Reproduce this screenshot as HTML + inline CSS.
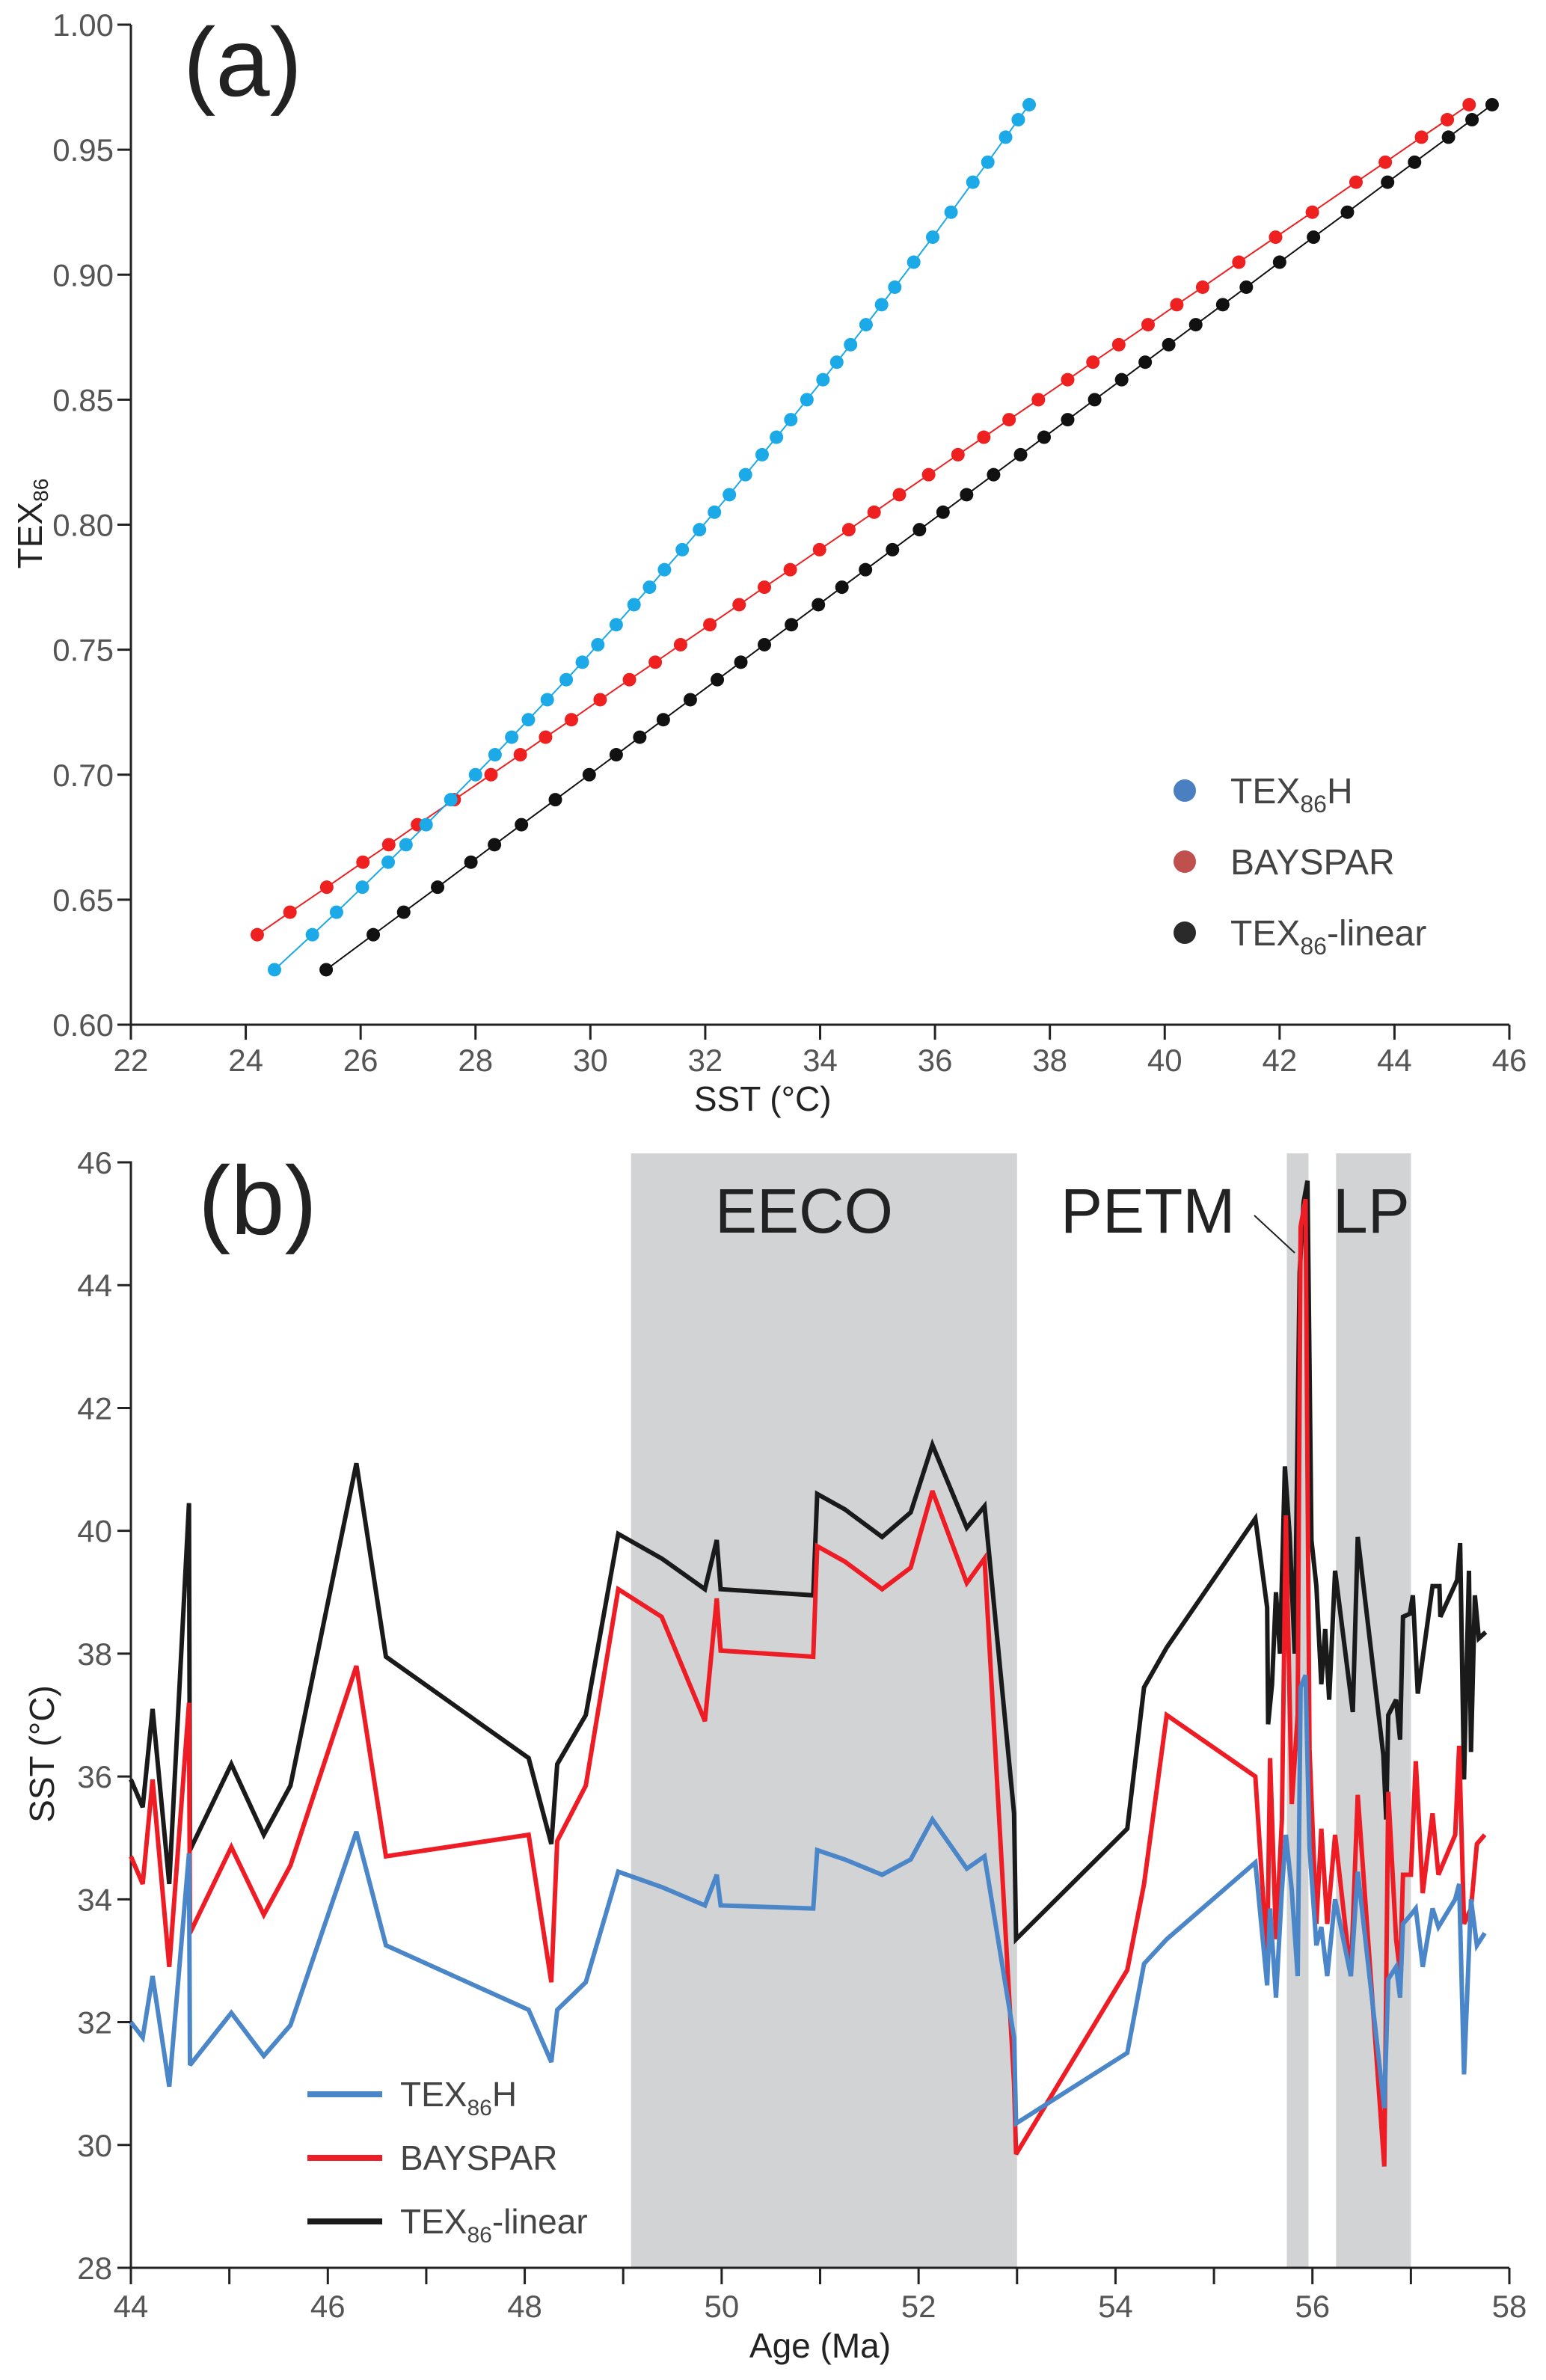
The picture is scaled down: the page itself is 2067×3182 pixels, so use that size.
<!DOCTYPE html>
<html><head><meta charset="utf-8"><style>
html,body{margin:0;padding:0;background:#fff}
svg{display:block;font-family:"Liberation Sans",sans-serif}
</style></head><body>
<svg id="fig" width="2067" height="3182" viewBox="0 0 2067 3182">
<g id="pa"></g>
<g id="pb"></g>
</svg>
<script>
// ---------- Panel (a) data ----------
const texValues=[0.622,0.636,0.645,0.655,0.665,0.672,0.680,0.690,0.700,0.708,0.715,0.722,0.730,0.738,0.745,0.752,0.760,0.768,0.775,0.782,0.790,0.798,0.805,0.812,0.820,0.828,0.835,0.842,0.850,0.858,0.865,0.872,0.880,0.888,0.895,0.905,0.915,0.925,0.937,0.945,0.955,0.962,0.968];
const sstTexH=[24.50,25.16,25.58,26.03,26.48,26.79,27.14,27.57,28.00,28.34,28.63,28.92,29.25,29.58,29.86,30.13,30.45,30.76,31.03,31.29,31.60,31.90,32.16,32.42,32.70,32.99,33.24,33.49,33.77,34.05,34.29,34.53,34.80,35.07,35.30,35.63,35.96,36.28,36.66,36.92,37.23,37.45,37.64];
const sstBayspar=[null,24.20,24.77,25.41,26.04,26.49,26.99,27.63,28.27,28.78,29.22,29.67,30.17,30.68,31.13,31.57,32.08,32.59,33.03,33.48,33.99,34.50,34.94,35.38,35.89,36.40,36.85,37.29,37.80,38.31,38.75,39.20,39.71,40.21,40.66,41.29,41.93,42.57,43.33,43.84,44.47,44.92,45.30];
const sstLinear=[25.40,26.22,26.75,27.34,27.92,28.33,28.80,29.39,29.98,30.45,30.86,31.27,31.74,32.21,32.62,33.03,33.50,33.97,34.38,34.79,35.26,35.73,36.14,36.55,37.02,37.49,37.90,38.31,38.78,39.25,39.66,40.07,40.54,41.01,41.42,42.00,42.59,43.18,43.88,44.35,44.94,45.35,45.70];
const aXTicks=[22,24,26,28,30,32,34,36,38,40,42,44,46];
const aYTicks=[0.60,0.65,0.70,0.75,0.80,0.85,0.90,0.95,1.00];

// ---------- Panel (b) data ----------
const ageBlack=[44.0,44.12,44.22,44.39,44.59,44.6,45.02,45.35,45.62,46.29,46.59,48.04,48.27,48.33,48.62,48.95,49.39,49.83,49.95,49.99,50.93,50.97,51.25,51.63,51.92,52.14,52.49,52.67,52.97,52.99,54.12,54.29,54.52,55.42,55.54,55.55,55.59,55.63,55.67,55.72,55.77,55.82,55.87,55.91,55.95,55.99,56.04,56.09,56.13,56.17,56.23,56.41,56.46,56.72,56.75,56.77,56.85,56.89,56.92,56.99,57.02,57.07,57.22,57.29,57.3,57.47,57.5,57.54,57.59,57.61,57.65,57.69,57.76];
const sstBlack=[35.95,35.5,37.1,34.25,40.45,34.8,36.2,35.05,35.85,41.1,37.95,36.3,34.9,36.2,37.0,39.95,39.55,39.05,39.85,39.05,38.95,40.6,40.35,39.9,40.3,41.4,40.05,40.4,35.4,33.35,35.15,37.45,38.1,40.2,38.75,36.85,37.5,39.0,38.0,41.05,39.9,38.0,44.2,45.35,45.7,39.85,39.1,37.5,38.4,37.25,39.35,37.05,39.9,36.35,35.3,37.0,37.25,36.6,38.6,38.65,38.95,37.35,39.1,39.1,38.6,39.2,39.8,35.95,39.35,36.4,38.95,38.25,38.35];
const ageColored=[44.0,44.12,44.22,44.39,44.59,44.6,45.02,45.35,45.62,46.29,46.59,48.04,48.27,48.33,48.62,48.95,49.39,49.83,49.95,49.99,50.93,50.97,51.25,51.63,51.92,52.14,52.49,52.67,52.97,52.99,54.12,54.29,54.52,55.42,55.54,55.57,55.63,55.69,55.73,55.79,55.85,55.88,55.93,55.97,56.04,56.09,56.15,56.23,56.39,56.46,56.73,56.77,56.85,56.89,56.92,57.0,57.05,57.12,57.22,57.28,57.45,57.49,57.54,57.61,57.67,57.75];
const sstRed=[34.7,34.25,35.95,32.9,37.2,33.45,34.85,33.75,34.55,37.8,34.7,35.05,32.65,34.95,35.85,39.05,38.6,36.9,38.9,38.05,37.95,39.75,39.5,39.05,39.4,40.65,39.15,39.55,31.0,29.85,32.85,34.25,37.0,36.0,33.0,36.3,33.35,35.3,40.25,35.55,37.0,44.95,45.4,36.45,33.6,35.15,33.6,35.05,32.75,35.7,29.65,35.75,33.35,32.8,34.4,34.4,36.25,34.1,35.4,34.4,35.05,36.5,33.6,33.85,34.9,35.05];
const sstBlue=[32.0,31.75,32.75,30.95,34.75,31.3,32.15,31.45,31.95,35.1,33.25,32.2,31.35,32.2,32.65,34.45,34.2,33.9,34.4,33.9,33.85,34.8,34.65,34.4,34.65,35.3,34.5,34.7,31.75,30.35,31.5,32.95,33.35,34.6,32.6,33.85,32.4,34.15,35.05,34.15,32.75,37.45,37.65,34.85,33.25,33.55,32.75,34.0,32.75,34.45,30.6,32.7,32.9,32.4,33.6,33.75,33.85,32.9,33.85,33.55,34.0,34.25,31.15,34.0,33.25,33.45];
const intervalNames=["EECO","PETM","LP"];
const intervalStart=[49.08,55.74,56.24];
const intervalEnd=[53.0,55.96,57.0];
const bXTicks=[44,46,48,50,52,54,56,58];
const bXMinor=[45,47,49,51,53,55,57];
const bYTicks=[28,30,32,34,36,38,40,42,44,46];

const NS="http://www.w3.org/2000/svg";
function mk(parent,tag,attrs,text){const e=document.createElementNS(NS,tag);for(const k in attrs)e.setAttribute(k,attrs[k]);if(text!==undefined)e.textContent=text;parent.appendChild(e);return e;}

// axis functions
const xa=v=>175+(v-22)*(2018-175)/24;
const ya=v=>1370-(v-0.6)*(1370-33)/0.4;
const xb=v=>175+(v-44)*(2018-175)/14;
const yb=v=>3032-(v-28)*(3032-1554)/18;

// ---------- Panel A ----------
const pa=document.getElementById('pa');
let e;
e=mk(pa,'path',{d:`M175,${ya(1)} V${ya(0.6)} H${xa(46)}`,fill:'none',stroke:'#222','stroke-width':3});

aYTicks.forEach(t=>{
  const tk=mk(pa,'line',{x1:157,x2:175,y1:ya(t),y2:ya(t),stroke:'#222','stroke-width':3});
  
  const lb=mk(pa,'text',{x:152,y:ya(t)+15,'text-anchor':'end','font-size':42,fill:'#555'},t.toFixed(2));
  
});
aXTicks.forEach(t=>{
  const tk=mk(pa,'line',{x1:xa(t),x2:xa(t),y1:1370,y2:1390,stroke:'#222','stroke-width':3});
  
  const lb=mk(pa,'text',{x:xa(t),y:1432,'text-anchor':'middle','font-size':42,fill:'#555'},String(t));
  
});
e=mk(pa,'text',{x:xa(33),y:1485,'text-anchor':'middle','font-size':46,fill:'#222'},'SST (°C)');

e=mk(pa,'text',{transform:'translate(56,700) rotate(-90)','text-anchor':'middle','font-size':46,fill:'#222'});

e.innerHTML='TEX<tspan font-size="28" dy="8">86</tspan>';
e=mk(pa,'text',{x:245,y:128,'font-size':130,fill:'#222'},'(a)');


const seriesA=[[sstBayspar,'#ee2020','bayspar'],[sstLinear,'#111','tex86-linear'],[sstTexH,'#1ba9e8','tex86h']];
seriesA.forEach(([arr,col,nm])=>{
  const pts=[];arr.forEach((v,i)=>{if(v!==null)pts.push([xa(v),ya(texValues[i])]);});
  const ln=mk(pa,'polyline',{points:pts.map(p=>p.join(',')).join(' '),fill:'none',stroke:col,'stroke-width':2});
  
  pts.forEach(p=>{const c=mk(pa,'circle',{cx:p[0],cy:p[1],r:9,fill:col});
    });
});
const legA=[['#4a7fc1','TEX','86','H'],['#c0504d','BAYSPAR','',''],['#2a2a2a','TEX','86','-linear']];
legA.forEach((l,i)=>{
  const y=1057+i*95;
  const c=mk(pa,'circle',{cx:1584,cy:y,r:15,fill:l[0]});
  
  const t=mk(pa,'text',{x:1645,y:y+17,'font-size':48,fill:'#444'});
  
  t.innerHTML=l[1]+(l[2]?'<tspan font-size="32" dy="12">'+l[2]+'</tspan><tspan dy="-12">'+l[3]+'</tspan>':'');
});

// ---------- Panel B ----------
const pb=document.getElementById('pb');
intervalNames.forEach((n,i)=>{
  const r=mk(pb,'rect',{x:xb(intervalStart[i]),y:1542,width:xb(intervalEnd[i])-xb(intervalStart[i]),height:3032-1542,fill:'#d1d3d4'});
  
});
e=mk(pb,'path',{d:`M157,${yb(46)} H175 V3032 H${xb(58)}`,fill:'none',stroke:'#222','stroke-width':3});

bYTicks.forEach(t=>{
  const tk=mk(pb,'line',{x1:157,x2:175,y1:yb(t),y2:yb(t),stroke:'#222','stroke-width':3});
  
  const lb=mk(pb,'text',{x:150,y:yb(t)+15,'text-anchor':'end','font-size':42,fill:'#555'},String(t));
  
});
bXTicks.forEach(t=>{
  const tk=mk(pb,'line',{x1:xb(t),x2:xb(t),y1:3032,y2:3054,stroke:'#222','stroke-width':3});
  
  const lb=mk(pb,'text',{x:xb(t),y:3098,'text-anchor':'middle','font-size':42,fill:'#555'},String(t));
  
});
bXMinor.forEach(t=>{
  const tk=mk(pb,'line',{x1:xb(t),x2:xb(t),y1:3032,y2:3054,stroke:'#222','stroke-width':3});
  
});
e=mk(pb,'text',{x:xb(51),y:3152,'text-anchor':'middle','font-size':46,fill:'#222'},'Age (Ma)');

e=mk(pb,'text',{transform:'translate(72,2345) rotate(-90)','text-anchor':'middle','font-size':46,fill:'#222'},'SST (°C)');


const seriesB=[[ageBlack,sstBlack,'#1a1a1a','tex86-linear'],[ageColored,sstRed,'#ee1c24','bayspar'],[ageColored,sstBlue,'#4a86c8','tex86h']];
seriesB.forEach(([ax,ay,col,nm])=>{
  const pts=ax.map((a,i)=>xb(a).toFixed(1)+','+yb(ay[i]).toFixed(1)).join(' ');
  const ln=mk(pb,'polyline',{points:pts,fill:'none',stroke:col,'stroke-width':6,'stroke-linejoin':'miter','stroke-miterlimit':3});
  
});
e=mk(pb,'text',{x:265,y:1650,'font-size':130,fill:'#222'},'(b)');

e=mk(pb,'text',{x:1075,y:1648,'text-anchor':'middle','font-size':84,fill:'#222'},'EECO');

e=mk(pb,'text',{x:1418,y:1648,'font-size':84,fill:'#222'},'PETM');

e=mk(pb,'text',{x:1782,y:1648,'font-size':84,fill:'#222'},'LP');

e=mk(pb,'line',{x1:1677,y1:1625,x2:1731,y2:1675,stroke:'#222','stroke-width':2});


const legB=[['#4a86c8','TEX','86','H'],['#ee1c24','BAYSPAR','',''],['#1a1a1a','TEX','86','-linear']];
legB.forEach((l,i)=>{
  const y=2800+i*85;
  const ln=mk(pb,'line',{x1:411,x2:511,y1:y,y2:y,stroke:l[0],'stroke-width':8});
  
  const t=mk(pb,'text',{x:535,y:y+16,'font-size':46,fill:'#444'});
  
  t.innerHTML=l[1]+(l[2]?'<tspan font-size="30" dy="12">'+l[2]+'</tspan><tspan dy="-12">'+l[3]+'</tspan>':'');
});
</script>
</body></html>
